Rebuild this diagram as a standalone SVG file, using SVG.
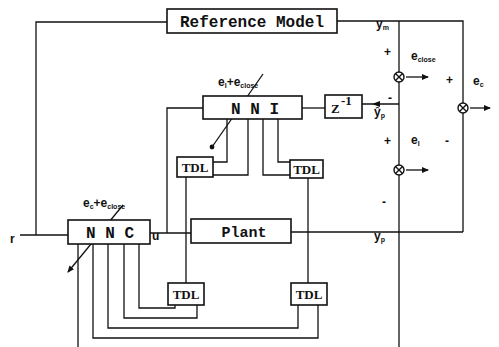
<svg xmlns="http://www.w3.org/2000/svg" width="499" height="347" viewBox="0 0 499 347">
<style>
.bx{fill:#fff;stroke:#111;stroke-width:1.6}
.ln{fill:none;stroke:#111;stroke-width:1.3}
.mono{font-family:"Liberation Mono",monospace;font-weight:bold;fill:#111}
.tdl{font-family:"Liberation Serif",serif;font-weight:bold;font-size:13px;fill:#111}
.lb{font-family:"Liberation Sans",Arial,sans-serif;font-weight:bold;font-size:12px;fill:#111}
.sb{font-size:7px}
</style>
<defs>
<marker id="ah" markerWidth="8" markerHeight="8" refX="6" refY="4" orient="auto" markerUnits="userSpaceOnUse">
<path d="M0,1 L7,4 L0,7 Z" fill="#111"/>
</marker>
<marker id="dt" markerWidth="6" markerHeight="6" refX="3" refY="3" markerUnits="userSpaceOnUse">
<circle cx="3" cy="3" r="2.4" fill="#111"/>
</marker>
<g id="sum"><circle cx="0" cy="0" r="5" fill="#fff" stroke="#111" stroke-width="1.4"/><path d="M-3.5,-3.5 L3.5,3.5 M-3.5,3.5 L3.5,-3.5" stroke="#111" stroke-width="1.4"/></g>
</defs>
<rect width="499" height="347" fill="#fff"/>
<g id="connectors">
<!-- reference path -->
<path class="ln" d="M36,235 V22 H167"/>
<path class="ln" d="M337,21 H463 V232"/>
<path class="ln" d="M399,21 V347"/>
<!-- r input -->
<path class="ln" d="M20,235 H68"/>
<!-- u line -->
<path class="ln" d="M150,233 H191"/>
<path class="ln" d="M167,233 V108 H203"/>
<!-- NNI to Z -->
<path class="ln" d="M302,108 H325"/>
<path class="ln" d="M399,104 H362"/>
<path d="M372,104 l8,-3 v6 z" fill="#111"/>
<!-- plant output -->
<path class="ln" d="M291,232 H463"/>
<!-- TDL verticals -->
<path class="ln" d="M186,177 V283"/>
<path class="ln" d="M308,178 V283"/>
<!-- NNI to upper TDLs -->
<path class="ln" d="M227,119 V162 H213"/>
<path class="ln" d="M248,119 V175 H213"/>
<path class="ln" d="M263,119 V175 H290"/>
<path class="ln" d="M278,119 V162 H290"/>
<!-- NNC to lower TDLs -->
<path class="ln" d="M78,244 V347"/>
<path class="ln" d="M93,244 V338 H318 V305"/>
<path class="ln" d="M108,244 V328 H298 V305"/>
<path class="ln" d="M124,244 V318 H197 V305"/>
<path class="ln" d="M139,244 V308 H175 V305"/>
<!-- junction outputs -->
<path class="ln" d="M406,77 H428" marker-end="url(#ah)"/>
<path class="ln" d="M470,108 H490" marker-end="url(#ah)"/>
<path class="ln" d="M406,170 H428" marker-end="url(#ah)"/>
<!-- adaptation arrows -->
<path class="ln" d="M123,205 L68,272" stroke-width="1.6" marker-end="url(#ah)"/>
<path class="ln" d="M263,74 L212,147" stroke-width="1.6" marker-end="url(#dt)"/>
</g>
<g id="sum1"><use href="#sum" x="399" y="77"/></g>
<g id="sum2"><use href="#sum" x="463" y="108"/></g>
<g id="sum3"><use href="#sum" x="399" y="170"/></g>
<g id="refmodel"><rect class="bx" x="167" y="9" width="170" height="24"/><text class="mono" x="252" y="27" font-size="16" text-anchor="middle">Reference Model</text></g>
<g id="nni"><rect class="bx" x="203" y="96" width="99" height="23"/><text class="mono" x="255" y="114" font-size="16" text-anchor="middle">N N I</text></g>
<g id="z"><rect class="bx" x="325" y="95" width="37" height="23"/><text class="tdl" x="331" y="113" font-size="14">Z</text><text class="tdl" x="341" y="105" font-size="9">-1</text></g>
<g id="nnc"><rect class="bx" x="68" y="220" width="82" height="24"/><text class="mono" x="110" y="238" font-size="16" text-anchor="middle">N N C</text></g>
<g id="plant"><rect class="bx" x="191" y="219" width="100" height="24"/><text class="mono" x="244" y="237" font-size="15" text-anchor="middle">Plant</text></g>
<g id="tdl1"><rect class="bx" x="177" y="157" width="36" height="20"/><text class="tdl" x="195" y="172" text-anchor="middle">TDL</text></g>
<g id="tdl2"><rect class="bx" x="290" y="160" width="33" height="18"/><text class="tdl" x="306.5" y="174" text-anchor="middle">TDL</text></g>
<g id="tdl3"><rect class="bx" x="168" y="283" width="36" height="22"/><text class="tdl" x="186" y="299" text-anchor="middle">TDL</text></g>
<g id="tdl4"><rect class="bx" x="291" y="283" width="36" height="22"/><text class="tdl" x="309" y="299" text-anchor="middle">TDL</text></g>
<g id="labels">
<text class="lb" x="10" y="243" font-size="13">r</text>
<text class="lb" x="152" y="240">u</text>
<text class="lb" x="376" y="28">y<tspan class="sb" dy="2">m</tspan></text>
<text class="lb" x="374" y="116">ŷ<tspan class="sb" dy="2">p</tspan></text>
<text class="lb" x="388" y="102" font-size="9">-</text>
<text class="lb" x="374" y="240">y<tspan class="sb" dy="2">p</tspan></text>
<text class="lb" x="384" y="56">+</text>
<text class="lb" x="411" y="60" font-size="13">e<tspan class="sb" dy="2">close</tspan></text>
<text class="lb" x="446" y="84">+</text>
<text class="lb" x="473" y="85" font-size="13">e<tspan class="sb" dy="2">c</tspan></text>
<text class="lb" x="384" y="145">+</text>
<text class="lb" x="411" y="144" font-size="13">e<tspan class="sb" dy="2">I</tspan></text>
<text class="lb" x="445" y="145">-</text>
<text class="lb" x="382" y="206">-</text>
<text class="lb" x="218" y="86" font-size="13">e<tspan class="sb" dy="2">I</tspan><tspan dy="-2">+e</tspan><tspan class="sb" dy="2">close</tspan></text>
<text class="lb" x="83" y="207" font-size="13">e<tspan class="sb" dy="2">c</tspan><tspan dy="-2">+e</tspan><tspan class="sb" dy="2">close</tspan></text>
</g>
</svg>
